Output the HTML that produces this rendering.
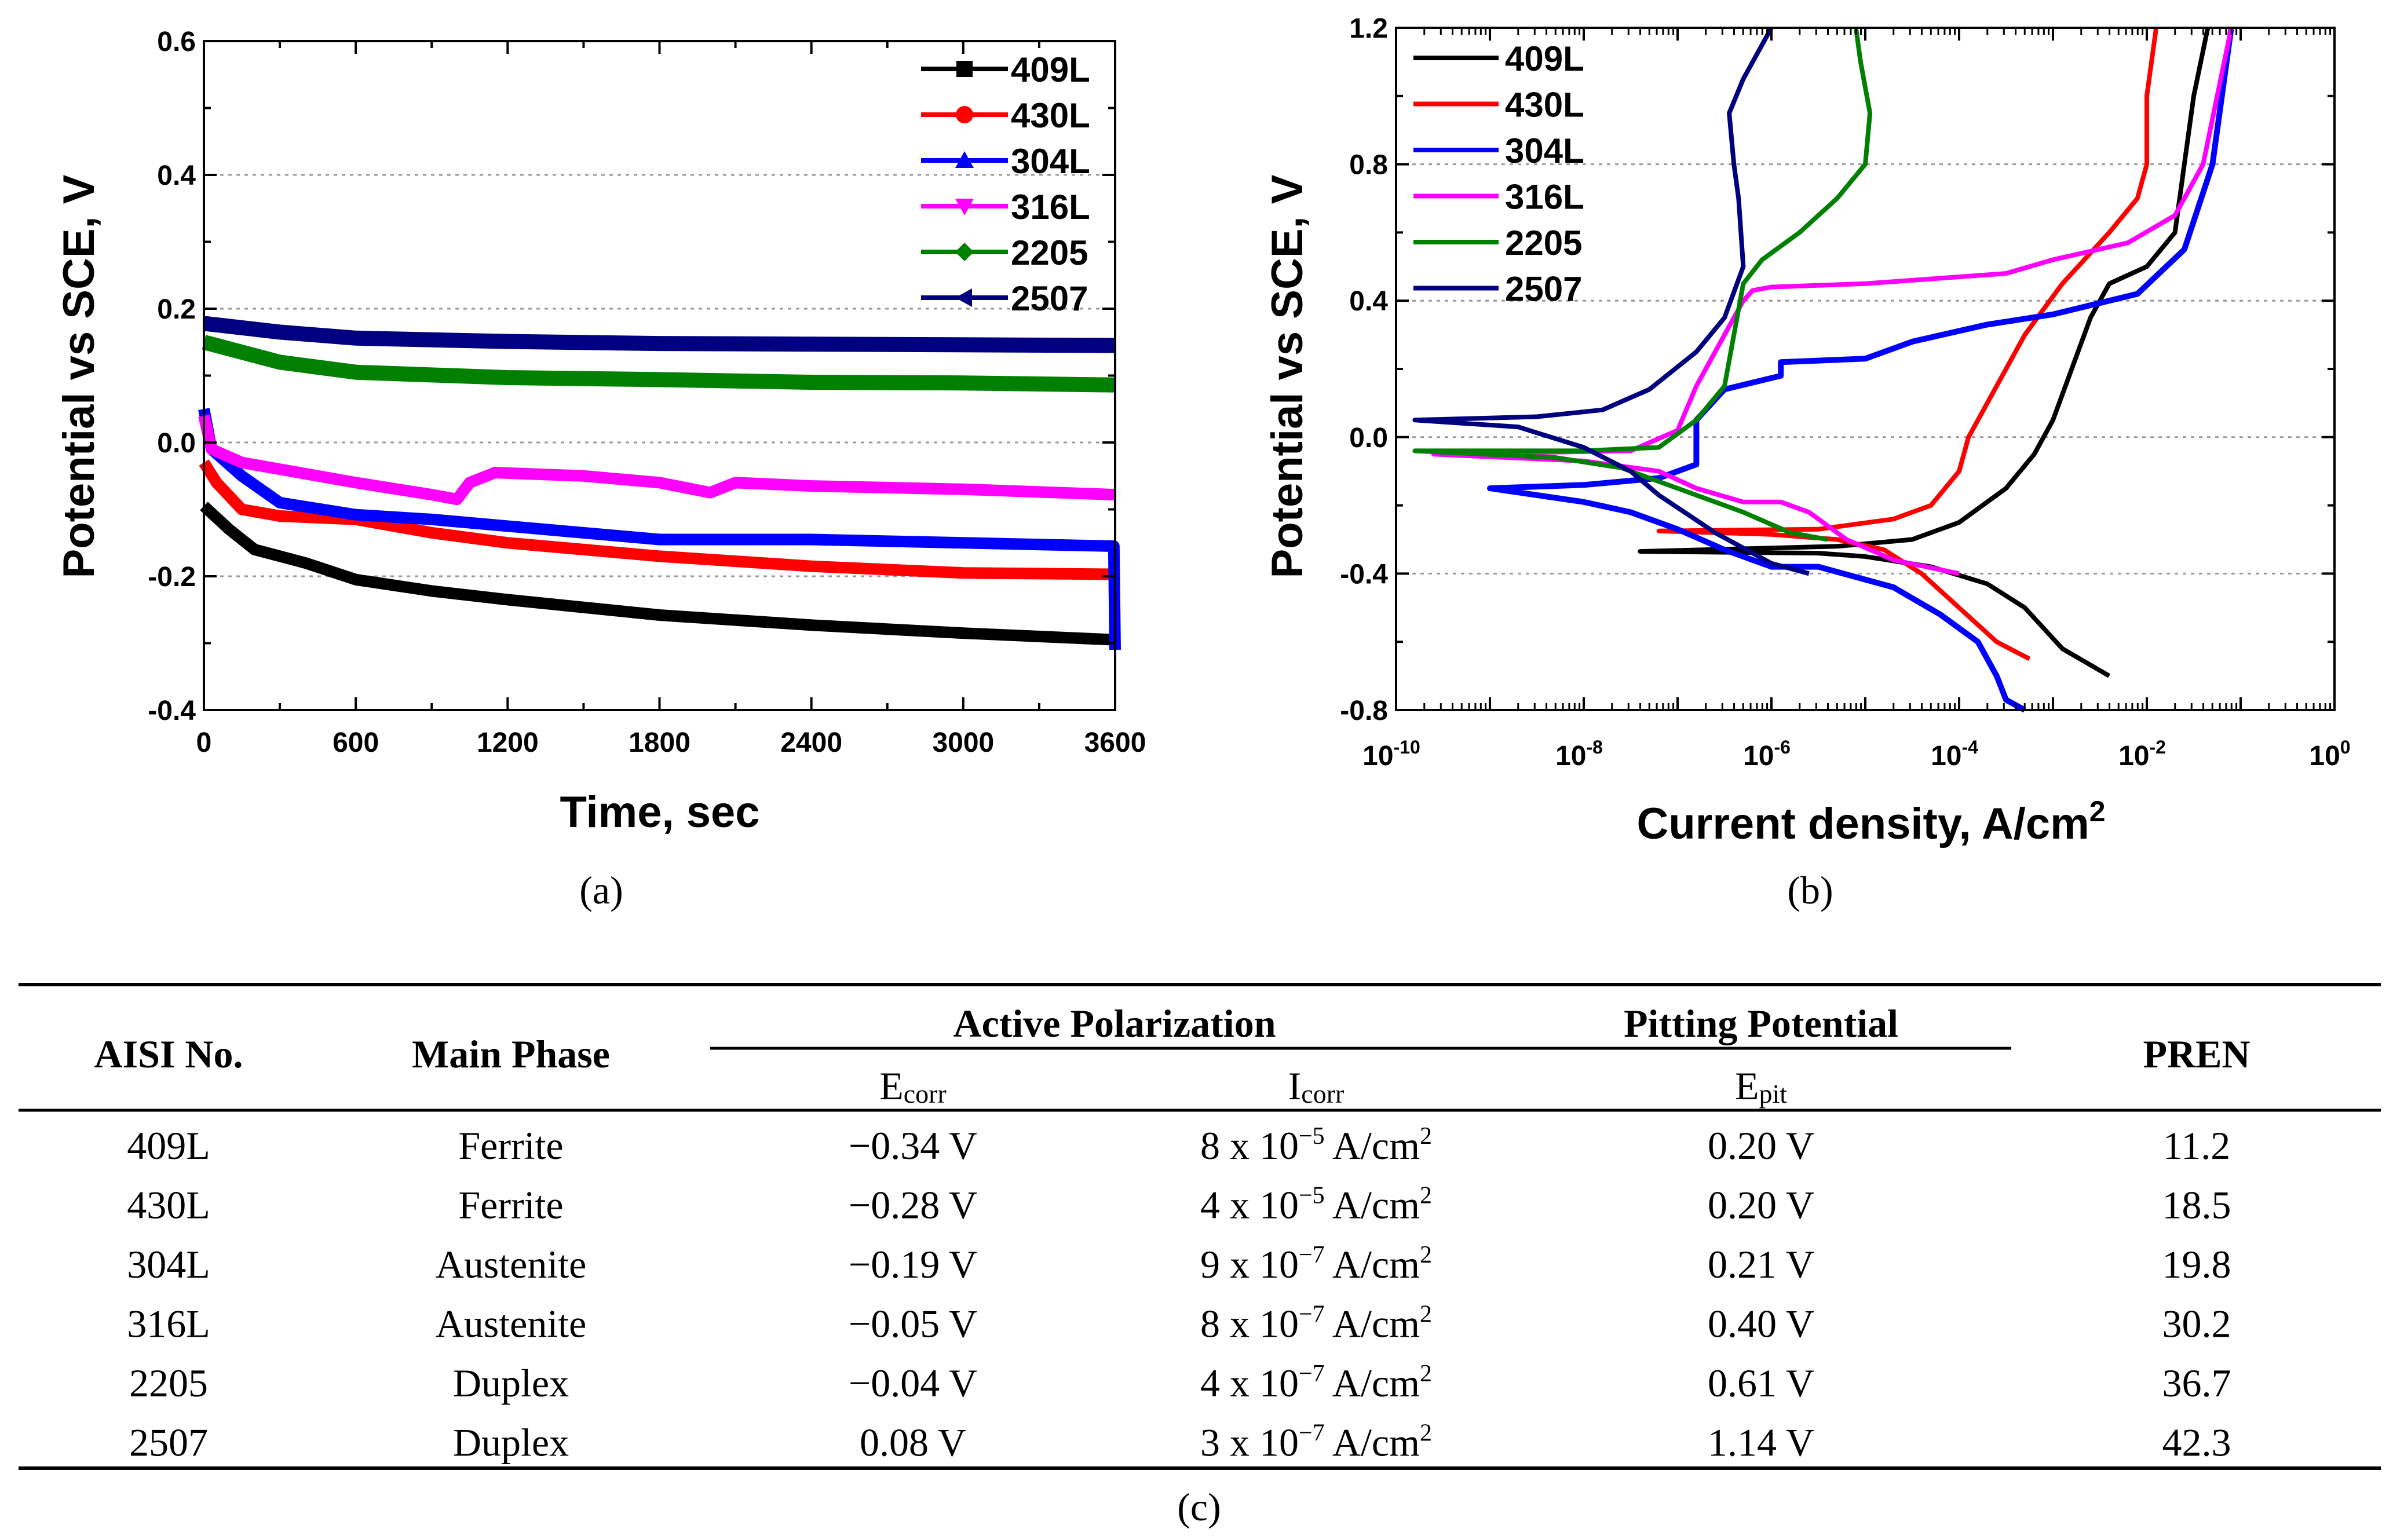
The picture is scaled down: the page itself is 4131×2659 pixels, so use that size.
<!DOCTYPE html>
<html><head><meta charset="utf-8"><style>
html,body{margin:0;padding:0;background:#fff}
svg{display:block}
.t{font-family:"Liberation Sans",sans-serif;font-weight:bold}
.s{font-family:"Liberation Serif",serif}
</style></head><body>
<svg id="fig" width="4131" height="2659" viewBox="0 0 4131 2659" xmlns="http://www.w3.org/2000/svg">
<g id="ga"></g>
<g id="gb"></g>
<g id="gt"></g>
</svg>
<script>
// ---------- Chart (a) data ----------
const aSeriesNames = ["409L","430L","304L","316L","2205","2507"];
const aColors = ["#000000","#ff0000","#0000ff","#ff00ff","#008000","#000080"];
const aT409 = [0,100,200,400,600,900,1200,1800,2400,3000,3600];
const aV409 = [-0.095,-0.13,-0.16,-0.18,-0.205,-0.222,-0.235,-0.258,-0.273,-0.285,-0.295];
const aT430 = [0,50,150,300,600,900,1200,1800,2400,3000,3600];
const aV430 = [-0.03,-0.06,-0.1,-0.11,-0.115,-0.135,-0.15,-0.17,-0.185,-0.195,-0.197];
const aT304 = [0,30,150,300,600,900,1200,1800,2400,3000,3595,3600];
const aV304 = [0.05,-0.01,-0.05,-0.09,-0.108,-0.115,-0.125,-0.145,-0.145,-0.15,-0.155,-0.31];
const aT316 = [0,30,150,300,600,900,1000,1050,1150,1500,1800,2000,2100,2400,3000,3600];
const aV316 = [0.04,-0.01,-0.03,-0.04,-0.06,-0.078,-0.085,-0.06,-0.045,-0.05,-0.06,-0.075,-0.06,-0.065,-0.07,-0.078];
const aT2205 = [0,300,600,1200,1800,2400,3000,3600];
const aV2205 = [0.15,0.12,0.105,0.097,0.094,0.09,0.089,0.086];
const aT2507 = [0,300,600,1200,1800,2400,3600];
const aV2507 = [0.178,0.165,0.156,0.151,0.148,0.147,0.145];
const aXTicks = [0,600,1200,1800,2400,3000,3600];
const aYTicks = [-0.4,-0.2,0.0,0.2,0.4,0.6];
const aYLabels = ["-0.4","-0.2","0.0","0.2","0.4","0.6"];

// ---------- Chart (b) data (log10 current, potential) ----------
const bNames = ["409L","430L","304L","316L","2205","2507"];
const bColors = ["#000000","#ff0000","#0000ff","#ff00ff","#008000","#000080"];
const bL409 = [-2.4,-2.9,-3.3,-3.7,-4.3,-5,-5.5,-7.4,-5.3,-4.5,-4.0,-3.5,-3.2,-3,-2.8,-2.6,-2.4,-2,-1.7,-1.6,-1.5,-1.35];
const bE409 = [-0.7,-0.62,-0.5,-0.43,-0.38,-0.35,-0.34,-0.335,-0.32,-0.3,-0.25,-0.15,-0.05,0.05,0.2,0.35,0.45,0.5,0.6,0.8,1.0,1.2];
const bL430 = [-3.25,-3.6,-4,-4.4,-4.8,-5.3,-6,-7.2,-5.5,-4.7,-4.3,-4,-3.9,-3.6,-3.3,-2.9,-2.4,-2.1,-2.0,-2.0,-1.9];
const bE430 = [-0.65,-0.6,-0.5,-0.4,-0.33,-0.3,-0.285,-0.275,-0.27,-0.24,-0.2,-0.1,0,0.15,0.3,0.45,0.6,0.7,0.8,1.0,1.2];
const bL304 = [-3.3,-3.5,-3.6,-3.8,-4.2,-4.7,-5.5,-6,-6.5,-7,-7.5,-8,-9,-8,-7.2,-6.8,-6.8,-6.5,-5.9,-5.9,-5,-4.5,-3.7,-3,-2.1,-1.6,-1.3,-1.1];
const bE304 = [-0.8,-0.77,-0.7,-0.6,-0.52,-0.44,-0.38,-0.38,-0.33,-0.27,-0.22,-0.19,-0.15,-0.14,-0.12,-0.08,0.05,0.14,0.18,0.22,0.23,0.28,0.33,0.36,0.42,0.55,0.8,1.2];
const bL316 = [-4.0,-4.7,-5.2,-5.6,-5.9,-6.3,-6.8,-7.2,-8,-9.6,-7.5,-7,-6.8,-6.5,-6.3,-6.2,-6,-5,-3.5,-3,-2.2,-1.7,-1.4,-1.1];
const bE316 = [-0.4,-0.36,-0.3,-0.22,-0.19,-0.19,-0.15,-0.1,-0.07,-0.05,-0.04,0.02,0.15,0.3,0.4,0.43,0.44,0.45,0.48,0.52,0.57,0.65,0.8,1.2];
const bL2205 = [-5.4,-5.8,-6.3,-7,-7.6,-8.3,-9.8,-8,-7.2,-6.8,-6.5,-6.4,-6.3,-6.1,-5.7,-5.3,-5.0,-4.95,-5.05,-5.1];
const bE2205 = [-0.3,-0.28,-0.22,-0.15,-0.09,-0.06,-0.04,-0.04,-0.03,0.05,0.15,0.3,0.45,0.52,0.6,0.7,0.8,0.95,1.1,1.2];
const bL2507 = [-5.6,-6,-6.6,-7.2,-7.5,-8,-8.7,-9.8,-8.5,-7.8,-7.3,-6.8,-6.5,-6.3,-6.35,-6.4,-6.45,-6.3,-6.1,-6];
const bE2507 = [-0.4,-0.37,-0.28,-0.17,-0.1,-0.03,0.03,0.05,0.06,0.08,0.14,0.25,0.35,0.5,0.7,0.8,0.95,1.05,1.15,1.2];
const bXDecades = [-10,-8,-6,-4,-2,0];
const bYTicks = [-0.8,-0.4,0.0,0.4,0.8,1.2];
const bYLabels = ["-0.8","-0.4","0.0","0.4","0.8","1.2"];

// ---------- Table data ----------
const tAisi = ["409L","430L","304L","316L","2205","2507"];
const tPhase = ["Ferrite","Ferrite","Austenite","Austenite","Duplex","Duplex"];
const tEcorr = ["\u22120.34 V","\u22120.28 V","\u22120.19 V","\u22120.05 V","\u22120.04 V","0.08 V"];
const tIcoef = ["8","4","9","8","4","3"];
const tIexp = ["\u22125","\u22125","\u22127","\u22127","\u22127","\u22127"];
const tEpit = ["0.20 V","0.20 V","0.21 V","0.40 V","0.61 V","1.14 V"];
const tPren = ["11.2","18.5","19.8","30.2","36.7","42.3"];

const NS="http://www.w3.org/2000/svg";
function mk(parent,tag,attrs,text){const e=document.createElementNS(NS,tag);for(const k in attrs)e.setAttribute(k,attrs[k]);if(text!==undefined)e.textContent=text;parent.appendChild(e);return e;}

// ===== Chart A =====
(function(){
const g=document.getElementById('ga');
const L=352,R=1925,T=71,B=1226;
const ax=t=>L+(t/3600)*(R-L);
const ay=v=>T+(0.6-v)/1.0*(B-T);
[0.4,0.2,0,-0.2].forEach(v=>{const l=mk(g,'line',{x1:L,x2:R,y1:ay(v),y2:ay(v),stroke:'#999','stroke-width':3,'stroke-dasharray':'6,8'});

});
const T_=[aT409,aT430,aT304,aT316,aT2205,aT2507],V_=[aV409,aV430,aV304,aV316,aV2205,aV2507];
for(let s=0;s<6;s++){
 const pts=T_[s].map((t,i)=>ax(t).toFixed(1)+','+ay(V_[s][i]).toFixed(1)).join(' ');
 const p=mk(g,'polyline',{points:pts,fill:'none',stroke:aColors[s],'stroke-width':s>=4?26:20,'stroke-linejoin':'round'});
 
 
}
const fr=mk(g,'rect',{x:L,y:T,width:R-L,height:B-T,fill:'none',stroke:'#000','stroke-width':4});


for(let t=0;t<=3600;t+=300){const len=t%600===0?22:12;
 mk(g,'line',{x1:ax(t),x2:ax(t),y1:B,y2:B-len,stroke:'#000','stroke-width':4});
 mk(g,'line',{x1:ax(t),x2:ax(t),y1:T,y2:T+len,stroke:'#000','stroke-width':4});}
for(let k=0;k<=10;k++){const v=-0.4+k*0.1;const len=k%2===0?22:12;
 mk(g,'line',{x1:L,x2:L+len,y1:ay(v),y2:ay(v),stroke:'#000','stroke-width':4});
 mk(g,'line',{x1:R,x2:R-len,y1:ay(v),y2:ay(v),stroke:'#000','stroke-width':4});}
aXTicks.forEach(t=>{const e=mk(g,'text',{x:ax(t),y:B+72,'text-anchor':'middle','font-size':48,class:'t'},String(t));
 
 });
aYTicks.forEach((v,i)=>{const e=mk(g,'text',{x:L-14,y:ay(v)+17,'text-anchor':'end','font-size':48,class:'t'},aYLabels[i]);
 
 });
const xt=mk(g,'text',{x:1139,y:1428,'text-anchor':'middle','font-size':76,class:'t'},'Time, sec');


const yt=mk(g,'text',{x:0,y:0,transform:'translate(162,650) rotate(-90)','text-anchor':'middle','font-size':76,class:'t'},'Potential vs SCE, V');


const marks=['sq','ci','tu','td','di','tl'];
for(let s=0;s<6;s++){const y=119+s*79;
 const lg=mk(g,'g',{});
 
 
 mk(lg,'line',{x1:1590,x2:1740,y1:y,y2:y,stroke:aColors[s],'stroke-width':8});
 const cx=1665,c=aColors[s];
 if(marks[s]==='sq')mk(lg,'rect',{x:cx-14,y:y-14,width:28,height:28,fill:c});
 if(marks[s]==='ci')mk(lg,'circle',{cx:cx,cy:y,r:15,fill:c});
 if(marks[s]==='tu')mk(lg,'polygon',{points:`${cx-16},${y+13} ${cx+16},${y+13} ${cx},${y-16}`,fill:c});
 if(marks[s]==='td')mk(lg,'polygon',{points:`${cx-16},${y-13} ${cx+16},${y-13} ${cx},${y+16}`,fill:c});
 if(marks[s]==='di')mk(lg,'polygon',{points:`${cx-16},${y} ${cx},${y-16} ${cx+16},${y} ${cx},${y+16}`,fill:c});
 if(marks[s]==='tl')mk(lg,'polygon',{points:`${cx-16},${y} ${cx+13},${y-16} ${cx+13},${y+16}`,fill:c});
 mk(lg,'text',{x:1745,y:y+22,'font-size':60,class:'t'},aSeriesNames[s]);
}
const cap=mk(g,'text',{x:1038,y:1560,'text-anchor':'middle','font-size':68,class:'s'},'(a)');


})();

// ===== Chart B =====
(function(){
const g=document.getElementById('gb');
const L=2410,R=4030,T=48,B=1226;
const bx=l=>L+(l+10)/10*(R-L);
const by=v=>T+(1.2-v)/2.0*(B-T);
[0.8,0.4,0,-0.4].forEach(v=>{const l=mk(g,'line',{x1:L,x2:R,y1:by(v),y2:by(v),stroke:'#999','stroke-width':3,'stroke-dasharray':'6,8'});

});
const Ls=[bL409,bL430,bL304,bL316,bL2205,bL2507],Es=[bE409,bE430,bE304,bE316,bE2205,bE2507];
for(let s=0;s<6;s++){
 const pts=Ls[s].map((l,i)=>bx(l).toFixed(1)+','+by(Es[s][i]).toFixed(1)).join(' ');
 const p=mk(g,'polyline',{points:pts,fill:'none',stroke:bColors[s],'stroke-width':s===2?10:8,'stroke-linejoin':'round'});
 
 
}
const fr=mk(g,'rect',{x:L,y:T,width:R-L,height:B-T,fill:'none',stroke:'#000','stroke-width':4});


for(let d=-10;d<=0;d++){
 mk(g,'line',{x1:bx(d),x2:bx(d),y1:B,y2:B-22,stroke:'#000','stroke-width':4});
 mk(g,'line',{x1:bx(d),x2:bx(d),y1:T,y2:T+22,stroke:'#000','stroke-width':4});
 if(d<0)for(let m=2;m<=9;m++){const x=bx(d+Math.log10(m));
  mk(g,'line',{x1:x,x2:x,y1:B,y2:B-12,stroke:'#000','stroke-width':3});
  mk(g,'line',{x1:x,x2:x,y1:T,y2:T+12,stroke:'#000','stroke-width':3});}
}
for(let k=0;k<=10;k++){const v=-0.8+k*0.2;const len=k%2===0?22:12;
 mk(g,'line',{x1:L,x2:L+len,y1:by(v),y2:by(v),stroke:'#000','stroke-width':4});
 mk(g,'line',{x1:R,x2:R-len,y1:by(v),y2:by(v),stroke:'#000','stroke-width':4});}
bXDecades.forEach(d=>{const e=mk(g,'text',{x:bx(d)-8,y:B+95,'text-anchor':'middle','font-size':48,class:'t'});
 
 
 mk(e,'tspan',{},'10');mk(e,'tspan',{dy:-20,'font-size':32},String(d));});
bYTicks.forEach((v,i)=>{const e=mk(g,'text',{x:L-14,y:by(v)+17,'text-anchor':'end','font-size':48,class:'t'},bYLabels[i]);
 
 });
const xt=mk(g,'text',{x:3230,y:1448,'text-anchor':'middle','font-size':76,class:'t'});


mk(xt,'tspan',{},'Current density, A/cm');mk(xt,'tspan',{dy:-30,'font-size':50},'2');
const yt=mk(g,'text',{x:0,y:0,transform:'translate(2248,650) rotate(-90)','text-anchor':'middle','font-size':76,class:'t'},'Potential vs SCE, V');


for(let s=0;s<6;s++){const y=100+s*79.5;
 const lg=mk(g,'g',{});
 
 
 mk(lg,'line',{x1:2440,x2:2587,y1:y,y2:y,stroke:bColors[s],'stroke-width':8});
 mk(lg,'text',{x:2598,y:y+22,'font-size':60,class:'t'},bNames[s]);}
const cap=mk(g,'text',{x:3125,y:1560,'text-anchor':'middle','font-size':68,class:'s'},'(b)');


})();

// ===== Table C =====
(function(){
const g=document.getElementById('gt');
const cols=[291,882,1576,2272,3040,3792];
const rule=(x1,x2,y,w,n)=>{const l=mk(g,'line',{x1:x1,x2:x2,y1:y,y2:y,stroke:'#000','stroke-width':w});
 
 };
rule(32,4110,1700,6,'table-top-rule');
rule(1226,3472,1810,5,'header-group-rule');
rule(32,4110,1917,5,'header-bottom-rule');
rule(32,4110,2535,6,'table-bottom-rule');
const txt=(x,y,s,bold,n)=>{const e=mk(g,'text',{x:x,y:y,'text-anchor':'middle','font-size':68,class:'s','font-weight':bold?'bold':'normal'},s);
 
 return e;};
txt(cols[0],1843,'AISI No.',true,'header-aisi');
txt(cols[1],1843,'Main Phase',true,'header-main-phase');
txt(1924,1790,'Active Polarization',true,'header-active-polarization');
txt(cols[4],1790,'Pitting Potential',true,'header-pitting-potential');
txt(cols[5],1843,'PREN',true,'header-pren');
const sub=(x,main,s,n)=>{const e=txt(x,1898,'',false,n);mk(e,'tspan',{},main);mk(e,'tspan',{'font-size':46,dy:6},s);};
sub(cols[2],'E','corr','header-ecorr');
sub(cols[3],'I','corr','header-icorr');
sub(cols[4],'E','pit','header-epit');
for(let i=0;i<6;i++){const y=2001+i*102.5;
 txt(cols[0],y,tAisi[i],false,'cell-aisi');
 txt(cols[1],y,tPhase[i],false,'cell-phase');
 txt(cols[2],y,tEcorr[i],false,'cell-ecorr');
 const e=txt(cols[3],y,'',false,'cell-icorr');
 mk(e,'tspan',{},tIcoef[i]+' x 10');mk(e,'tspan',{'font-size':42,dy:-26},tIexp[i]);mk(e,'tspan',{dy:26},' A/cm');mk(e,'tspan',{'font-size':42,dy:-26},'2');
 txt(cols[4],y,tEpit[i],false,'cell-epit');
 txt(cols[5],y,tPren[i],false,'cell-pren');
}
txt(2070,2625,'(c)',false,'caption-c');
})();
</script>
</body></html>
